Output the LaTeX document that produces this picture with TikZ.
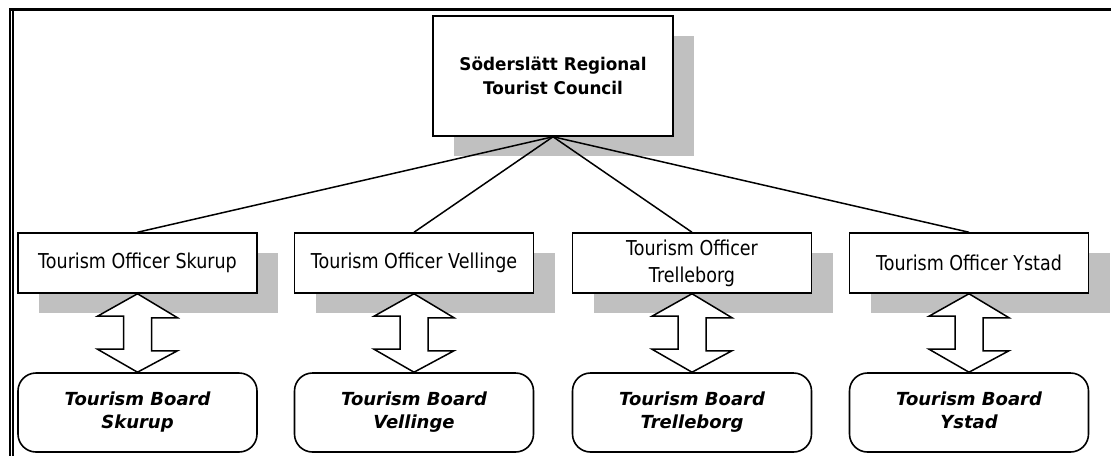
\documentclass[tikz,border=0pt]{standalone}
\usepackage{fontspec}
\usetikzlibrary{shadows}
\newfontfamily\tahomaR{DejaVu Sans}[FakeStretch=0.855]
\newfontfamily\tahomaB{DejaVu Sans Bold}[FakeStretch=0.96]
\newfontfamily\boardfont{DejaVu Sans Bold Oblique}
\definecolor{shadowgray}{RGB}{192,192,192}
\tikzset{
  box/.style={draw, line width=1.5pt, fill=white, inner sep=0pt, align=center,
    drop shadow={shadow xshift=21pt, shadow yshift=-20pt, fill=shadowgray, opacity=1}},
  topbox/.style={box, minimum width=240pt, minimum height=120pt,
    font=\tahomaB\fontsize{17.5}{24}\selectfont},
  offbox/.style={box, minimum width=239pt, minimum height=60pt,
    font=\tahomaR\fontsize{20.5}{27}\selectfont},
  boardbox/.style={draw, line width=1.6pt, fill=white, rounded corners=18pt,
    minimum width=239pt, minimum height=79pt, inner sep=0pt, align=center,
    font=\boardfont\fontsize{18}{23}\selectfont},
  link/.style={line width=1.5pt},
  dblarrow/.style={draw, line width=1.5pt, fill=white, line join=miter},
  framethick/.style={line width=3.4pt},
  frameleft/.style={line width=1.8pt},
  framethin/.style={line width=1.2pt}
}
\begin{document}
\begin{tikzpicture}[x=1pt,y=-1pt]
\useasboundingbox (0,0) rectangle (1111,456);
% page border
\draw[framethick] (9,9.7) -- (1111,9.7);
\draw[frameleft] (9.9,8) -- (9.9,456);
\draw[framethin] (13,11) -- (13,456);
% top node
\node[topbox] (top) at (553,76) {Söderslätt Regional\\Tourist Council};
% officers
\node[offbox] (o1) at (137.5,263) {Tourism Officer Skurup};
\node[offbox] (o2) at (414,263) {Tourism Officer Vellinge};
\node[offbox] (o3) at (692,263) {Tourism Officer\\Trelleborg};
\node[offbox] (o4) at (969,263) {Tourism Officer Ystad};
% boards
\node[boardbox] (b1) at (137.5,412.5) {Tourism Board\\Skurup};
\node[boardbox] (b2) at (414,412.5) {Tourism Board\\Vellinge};
\node[boardbox] (b3) at (692,412.5) {Tourism Board\\Trelleborg};
\node[boardbox] (b4) at (969,412.5) {Tourism Board\\Ystad\vphantom{p}};
% links
\foreach \i in {1,...,4}{
  \draw[link] (top.south) -- (o\i.north);
  \draw[dblarrow] (o\i.south) -- ++(40,24) -- ++(-26,0) -- ++(0,33) -- ++(26,0)
    -- (b\i.north) -- ++(-40,-23) -- ++(26,0) -- ++(0,-33) -- ++(-26,0) -- cycle;
}
\end{tikzpicture}
\end{document}
